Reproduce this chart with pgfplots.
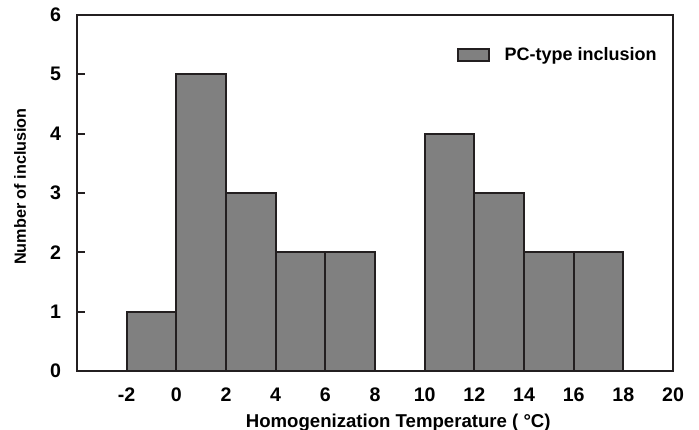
\documentclass[border=0pt]{standalone}
\usepackage{fontspec}
\setmainfont{Liberation Sans}
\usepackage{pgfplots}
\pgfplotsset{compat=1.18}
\definecolor{edge}{RGB}{35,31,32}
\definecolor{barfill}{RGB}{128,128,128}
\begin{document}
\begin{tikzpicture}
\begin{axis}[
  name=ax,
  scale only axis,
  width=298pt, height=178pt,
  xmin=-4, xmax=20, ymin=0, ymax=6,
  xtick={-2,0,2,4,6,8,10,12,14,16,18,20},
  ytick={0,1,2,3,4,5,6},
  /pgf/number format/assume math mode=true,
  axis line style={line width=1pt, color=edge},
  xtick style={draw=none},
  ytick pos=left,
  tick align=inside,
  ytick style={line width=1pt, color=edge},
  major tick length=4pt,
  ticklabel style={font=\bfseries\fontsize{9.8}{10}\selectfont},
  yticklabel style={xshift=-4.5pt},
  xticklabel style={yshift=-5pt},
  xlabel={Homogenization Temperature ( °C)},
  xlabel style={at={(axis description cs:0.539,0)}, anchor=center, yshift=-26pt, font=\bfseries\fontsize{9.3}{10}\selectfont},
  ylabel={Number of inclusion},
  ylabel style={at={(axis description cs:0,0.518)}, anchor=center, yshift=28.5pt, font=\bfseries\fontsize{8.1}{10}\selectfont},
  legend style={draw=none, fill=none, at={(axis description cs:1,1)}, anchor=north east, xshift=-3pt, yshift=-12pt, font=\bfseries\fontsize{9}{10}\selectfont},
  legend image code/.code={\draw[#1] (0pt,-3pt) rectangle (15.5pt,3pt); \path (21pt,0pt);},
]
\addplot[ybar, bar width=2, fill=barfill, draw=edge, line width=1pt]
  coordinates {(-1,1) (1,5) (3,3) (5,2) (7,2) (11,4) (13,3) (15,2) (17,2)};
\addlegendentry{PC-type inclusion}
\end{axis}
\pgfresetboundingbox
\path[use as bounding box] ([shift={(-38.5pt,-29.5pt)}]ax.south west) rectangle ([shift={(13pt,7.5pt)}]ax.north east);
\end{tikzpicture}
\end{document}
